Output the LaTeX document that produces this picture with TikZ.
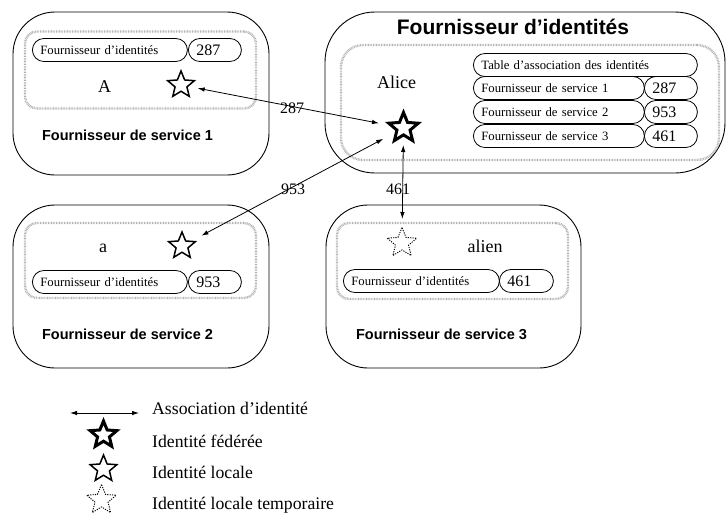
\documentclass[tikz,border=0pt]{standalone}
\usepackage{fontspec}
\setmainfont{Liberation Serif}
\setsansfont{Liberation Sans}
\usetikzlibrary{shapes.geometric,arrows.meta,calc}
\newcommand\txtsmall{\fontsize{12.7}{14}\selectfont}
\newcommand\txtnum{\fontsize{16}{18}\selectfont}
\newcommand\txtname{\fontsize{18}{20}\selectfont}
\newcommand\txtlegend{\fontsize{17.7}{20}\selectfont}
\newcommand\txtsp{\sffamily\bfseries\fontsize{14.5}{16}\selectfont}
\newcommand\txttitle{\sffamily\bfseries\fontsize{21}{24}\selectfont}
\begin{document}
\begin{tikzpicture}[x=1pt,y=-1pt,
  outerbox/.style={draw, line width=0.9pt, rounded corners=42pt, inner sep=0pt},
  innerbox/.style={draw=black!30, line width=2.4pt, dash pattern=on 0.8pt off 0.8pt, rounded corners=12pt, inner sep=0pt},
  pillbase/.style={draw, line width=0.8pt, rounded corners=11.5pt, minimum height=23pt, inner ysep=0pt, inner xsep=8pt, align=left, text depth=0pt, anchor=west},
  namepill/.style={pillbase, text width=#1, font=\txtsmall, text height=8.5pt},
  numpill/.style={pillbase, text width=#1, font=\txtnum, text height=10.5pt},
  localstar/.style={draw, shape=star, star points=5, star point ratio=2.25, minimum size=28pt, inner sep=0pt, line width=1.5pt},
  fedstar/.style={localstar, line width=3pt, minimum size=31pt},
  tempstar/.style={localstar, line width=0.9pt, dash pattern=on 1.2pt off 1.2pt, minimum size=31pt},
  assoc/.style={line width=0.8pt, {Latex[length=7pt,width=4.5pt]}-{Latex[length=7pt,width=4.5pt]}},
  lbl/.style={font=\txtnum, inner sep=0pt, anchor=base},
  nm/.style={font=\txtname, inner sep=0pt, anchor=base},
  sp/.style={font=\txtsp, inner sep=0pt, anchor=base},
  leg/.style={font=\txtlegend, inner sep=0pt, anchor=base west}]
\useasboundingbox (0,0) rectangle (726,515);

% ---- Fournisseur de service 1
\node[outerbox, minimum width=256pt, minimum height=163pt] (sp1) at (141,93.5) {};
\node[innerbox, minimum width=231pt, minimum height=77pt] (sp1in) at (140.5,70) {};
\node[namepill=139pt] (sp1p) at (32,50) {Fournisseur d'identités};
\node[numpill=37pt] (sp1n) at (188,50) {287};
\node[nm] (sp1name) at (104.5,92) {A};
\node[localstar] (s1) at (181,85) {};
\node[sp] (sp1lab) at (127.5,140) {Fournisseur de service 1};

% ---- Fournisseur de service 2
\node[outerbox, minimum width=256pt, minimum height=163pt] (sp2) at (141,286.5) {};
\node[innerbox, minimum width=231pt, minimum height=75pt] (sp2in) at (140.5,260.5) {};
\node[namepill=139pt] (sp2p) at (32,282) {Fournisseur d'identités};
\node[numpill=37pt] (sp2n) at (188,282) {953};
\node[nm] (sp2name) at (103,252) {a};
\node[localstar] (s2) at (182,246) {};
\node[sp] (sp2lab) at (127.5,339) {Fournisseur de service 2};

% ---- Fournisseur de service 3
\node[outerbox, minimum width=255pt, minimum height=163pt] (sp3) at (453.5,286.5) {};
\node[innerbox, minimum width=231pt, minimum height=76pt] (sp3in) at (452.5,261) {};
\node[namepill=140pt] (sp3p) at (343,281) {Fournisseur d'identités};
\node[numpill=38pt] (sp3n) at (499,281) {461};
\node[nm] (sp3name) at (485,252) {alien};
\node[tempstar] (s3) at (402,243) {};
\node[sp] (sp3lab) at (441.5,339) {Fournisseur de service 3};

% ---- Fournisseur d'identites
\node[outerbox, rounded corners=50pt, minimum width=400pt, minimum height=161pt] (idp) at (525,92.5) {};
\node[innerbox, rounded corners=22pt, minimum width=378pt, minimum height=115pt] (idpin) at (530,102.5) {};
\node[font=\txttitle, inner sep=0pt, anchor=base] (idptitle) at (513,34) {Fournisseur d'identités};
\node[nm] (alice) at (396.5,88) {Alice};
\node[fedstar] (s0) at (403.5,128) {};
\node[namepill=208pt] (tab) at (473,65) {Table d'association des identités};
\node[namepill=155pt] (r1) at (473,88) {Fournisseur de service 1};
\node[numpill=37pt] (r1n) at (644,88) {287};
\node[namepill=155pt] (r2) at (473,112) {Fournisseur de service 2};
\node[numpill=37pt] (r2n) at (644,112) {953};
\node[namepill=155pt] (r3) at (473,136) {Fournisseur de service 3};
\node[numpill=37pt] (r3n) at (644,136) {461};

% ---- associations
\draw[assoc] ($(s0)!25pt!(s1)$) -- ($(s1)!17pt!(s0)$);
\draw[assoc] ($(s0)!23pt!(s2)$) -- ($(s2)!22pt!(s0)$);
\draw[assoc] ($(s0)!17pt!(s3)$) -- ($(s3)!24pt!(s0)$);
\node[lbl] (l287) at (292,113) {287};
\node[lbl] (l953) at (293,194) {953};
\node[lbl] (l461) at (398,194) {461};

% ---- legend
\coordinate (la1) at (70,413);
\coordinate (la2) at (139,413);
\draw[assoc] (la1) -- (la2);
\node[leg] (t1) at (152,414) {Association d'identité};
\node[fedstar, minimum size=28pt] (ls1) at (103.5,435) {};
\node[leg] (t2) at (152,447) {Identité fédérée};
\node[localstar] (ls2) at (103.5,469) {};
\node[leg] (t3) at (152,478) {Identité locale};
\node[tempstar] (ls3) at (101.5,500) {};
\node[leg] (t4) at (152,509) {Identité locale temporaire};
\end{tikzpicture}
\end{document}
